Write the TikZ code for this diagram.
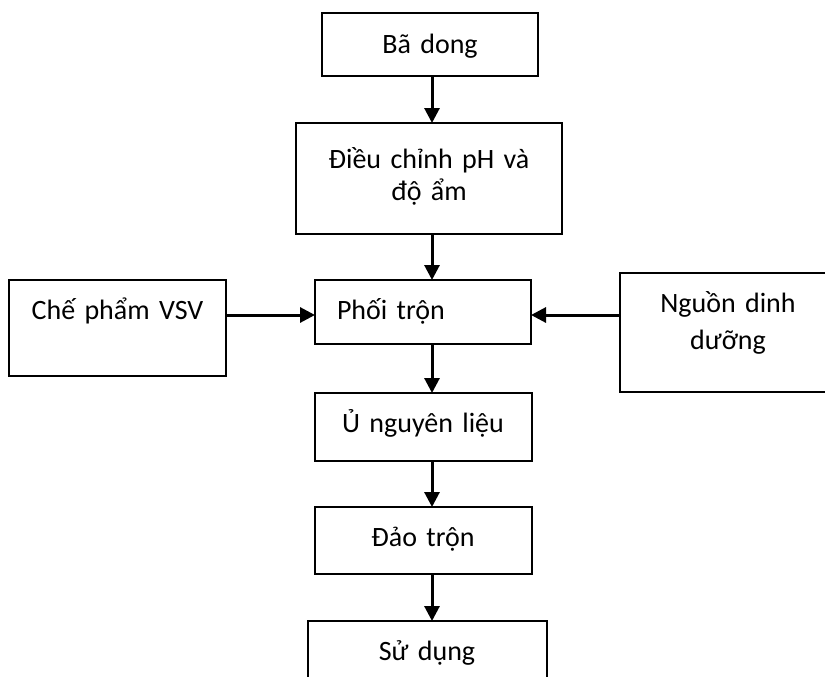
\documentclass[tikz,border=0pt]{standalone}
\usepackage{fontspec}
\setmainfont{Carlito}
\usetikzlibrary{arrows.meta,positioning}

\begin{document}
\begin{tikzpicture}[
    x=1pt, y=-1pt,
    font=\fontsize{28}{34}\selectfont,
    box/.style={rectangle, draw=black, line width=2pt, inner sep=0pt, outer sep=0pt, align=center, text height=39pt},
    arrow/.style={-{Triangle[length=15pt, width=15pt]}, line width=3pt, draw=black}
]
    \useasboundingbox (0,0) rectangle (825,677);
    \clip (0,0) rectangle (825,677);

    \node [box, anchor=north, text width=216pt, text height=41pt, text depth=22pt] (bada) at (430,13) {Bã dong};
    \node [box, below=47pt of bada, xshift=-1pt, text width=266pt, text height=45pt, text depth=66pt] (dieu) {Điều chỉnh pH và\\[-2pt]độ ẩm};
    \node [box, below=46pt of dieu, xshift=-6pt, inner xsep=22pt, text width=172pt, align=left, text depth=25pt] (phoi) {Phối trộn};
    \node [box, left=89pt of phoi.north west, anchor=north east, text width=217pt, text depth=57pt] (che) {Chế phẩm VSV};
    \node [box, right=89pt of phoi.north east, anchor=north west, yshift=7pt, text width=216pt, text depth=80pt] (nguon) {Nguồn dinh\\[3.6pt]dưỡng};
    \node [box, below=49pt of phoi, text width=217pt, text depth=29pt] (uxu) {Ủ nguyên liệu};
    \node [box, below=46pt of uxu, text width=217pt, text depth=28pt] (dao) {Đảo trộn};
    \node [box, below=47pt of dao, xshift=4pt, text width=239pt, text depth=25pt] (sudung) {Sử dụng};

    \coordinate (col) at (432,0);
    \draw [arrow] (bada.south -| col) -- (dieu.north -| col);
    \draw [arrow] (dieu.south -| col) -- (phoi.north -| col);
    \draw [arrow] (che.east |- 0,315) -- (phoi.west |- 0,315);
    \draw [arrow] (nguon.west |- 0,315) -- (phoi.east |- 0,315);
    \draw [arrow] (phoi.south -| col) -- (uxu.north -| col);
    \draw [arrow] (uxu.south -| col) -- (dao.north -| col);
    \draw [arrow] (dao.south -| col) -- (sudung.north -| col);
\end{tikzpicture}
\end{document}
